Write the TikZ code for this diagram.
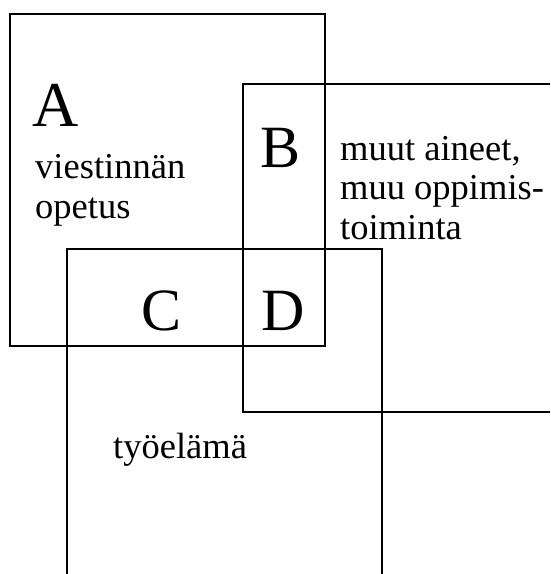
\documentclass[tikz,border=0pt]{standalone}
\usepackage{fontspec}
\setmainfont{Liberation Serif}
\begin{document}
\begin{tikzpicture}[
  x=1pt, y=-1pt,
  box/.style={line width=2pt, line join=miter},
  big/.style={font=\fontsize{60}{60}\selectfont, inner sep=0pt, anchor=base west},
  txt/.style={font=\fontsize{36.5}{39.5}\selectfont, inner sep=0pt, anchor=base west, align=left}
]

% Frame of the picture
\useasboundingbox (0,0) rectangle (550,574);
\clip (0,0) rectangle (550,574);

% Areas
\draw[box] (10,14) rectangle (325,346);   % A
\draw[box] (243,84) rectangle (570,412);  % B
\draw[box] (67,249) rectangle (382,600);  % C

% Letters
\node[big, font=\fontsize{64}{64}\selectfont] (lA) at (32,126) {A};
\node[big] (lB) at (260,167) {B};
\node[big] (lC) at (141,330) {C};
\node[big] (lD) at (261,330) {D};

% Texts (base = last line)
\node[txt] (tA) at (35,218) {viestinnän\\opetus};
\node[txt] (tB) at (340,239) {muut aineet,\\muu oppimis-\\toiminta};
\node[txt] (tC) at (113,458) {työelämä};

\end{tikzpicture}
\end{document}
